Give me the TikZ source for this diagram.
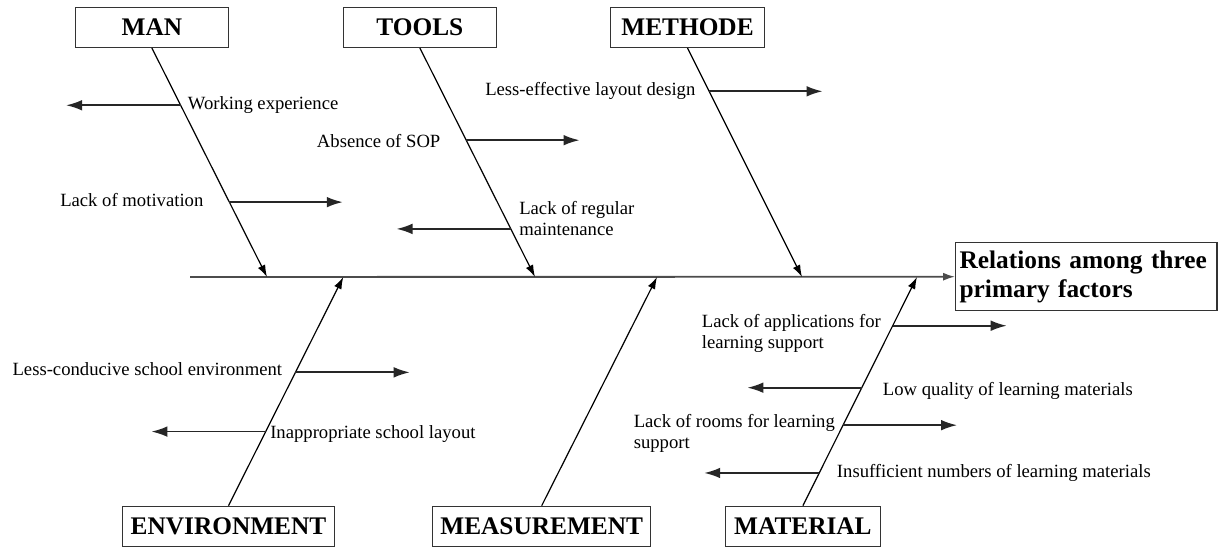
\documentclass[tikz,border=0pt]{standalone}
\usepackage{fontspec}
\setmainfont{Liberation Serif}
\usetikzlibrary{arrows.meta,positioning}

\begin{document}
\begin{tikzpicture}[
	x=0.75pt, y=-0.75pt,
	% Cause and effect boxes
	cause/.style={draw=black!80, line width=0.8pt, font=\fontsize{19}{22}\selectfont\bfseries, minimum height=30pt, inner sep=0pt},
	effect/.style={draw=black!80, line width=0.8pt, font=\fontsize{19}{22}\selectfont\bfseries, text width=190pt, inner xsep=3pt, minimum height=51pt, align=left},
	% Lines
	spine/.style={draw=black!70, line width=1.4pt, -{Latex[length=9pt,width=6pt]}},
	bone/.style={line width=0.9pt, -{Latex[length=9pt,width=6pt]}},
	twig/.style={draw=black!85, line width=1.3pt, -{Latex[length=12pt,width=8pt]}},
	% Texts of the twigs (base = last line)
	note/.style={font=\fontsize{14}{15.75}\selectfont, inner sep=0pt, anchor=base west, align=left}
	]
	\useasboundingbox (0,0) rectangle (1218,547);
	%% Boxes
	\node (c1) [cause, minimum width=115pt] at (151.9,27.5) {MAN};
	\node (c2) [cause, minimum width=115pt] at (419.9,27.5) {TOOLS};
	\node (c3) [cause, minimum width=115pt] at (687.5,27.5) {METHODE};
	\node (c4) [cause, minimum width=158.7pt] at (228.5,526.2) {ENVIRONMENT};
	\node (c5) [cause, minimum width=163.5pt] at (541.7,526.2) {MEASUREMENT};
	\node (c6) [cause, minimum width=116.8pt] at (802.9,526.2) {MATERIAL};
	\node (e) [effect, minimum width=196pt] at (1086.3,276.7) {Relations among three\\primary factors};
	%% Spine and bones
	\coordinate (s0) at (190,277);
	\coordinate (s1) at (267,277);
	\coordinate (s2) at (535,277);
	\coordinate (s3) at (802,277);
	\coordinate (s4) at (343.3,277);
	\coordinate (s5) at (657,277);
	\coordinate (s6) at (917,277);
	\draw [spine] (s0) -- (e.west);
	\draw [bone] (c1.south) -- (s1) coordinate[pos=0.25] (m1) coordinate[pos=0.673] (m2);
	\draw [bone] (c2.south) -- (s2) coordinate[pos=0.4025] (m3) coordinate[pos=0.79] (m4);
	\draw [bone] (c3.south) -- (s3) coordinate[pos=0.189] (m5);
	\draw [bone] (c4.north) -- (s4) coordinate[pos=0.583] (n1) coordinate[pos=0.324] (n2);
	\draw [bone] (c5.north) -- (s5);
	\draw [bone] (c6.north) -- (s6) coordinate[pos=0.787] (n3) coordinate[pos=0.516] (n4)
		coordinate[pos=0.352] (n5) coordinate[pos=0.143] (n6);
	%% Twigs
	\draw [twig] (m1) -- ++(-114.6,0);
	\draw [twig] (m2) -- ++(113.4,0);
	\draw [twig] (m3) -- ++(113.3,0);
	\draw [twig] (m4) -- ++(-114.3,0);
	\draw [twig] (m5) -- ++(113.4,0);
	\draw [twig] (n1) -- ++(114.3,0);
	\draw [twig] (n2) -- ++(-114.3,0);
	\draw [twig] (n3) -- ++(114,0);
	\draw [twig] (n4) -- ++(-114.4,0);
	\draw [twig] (n5) -- ++(114,0);
	\draw [twig] (n6) -- ++(-115,0);
	%% Notes
	\node (t1) [note] at (187.7,109.3) {Working experience};
	\node (t2) [note] at (60,206) {Lack of motivation};
	\node (t3) [note] at (316.7,147.6) {Absence of SOP};
	\node (t4) [note] at (519,235.3) {Lack of regular\\maintenance};
	\node (t5) [note] at (485,95.3) {Less-effective layout design};
	\node (t6) [note] at (12.3,375.3) {Less-conducive school environment};
	\node (t7) [note] at (270,438.3) {Inappropriate school layout};
	\node (t8) [note] at (701.7,348) {Lack of applications for\\learning support};
	\node (t9) [note] at (882.7,395.3) {Low quality of learning materials};
	\node (t10) [note] at (633.5,448.3) {Lack of rooms for learning\\support};
	\node (t11) [note] at (836.7,477.6) {Insufficient numbers of learning materials};
\end{tikzpicture}
\end{document}
